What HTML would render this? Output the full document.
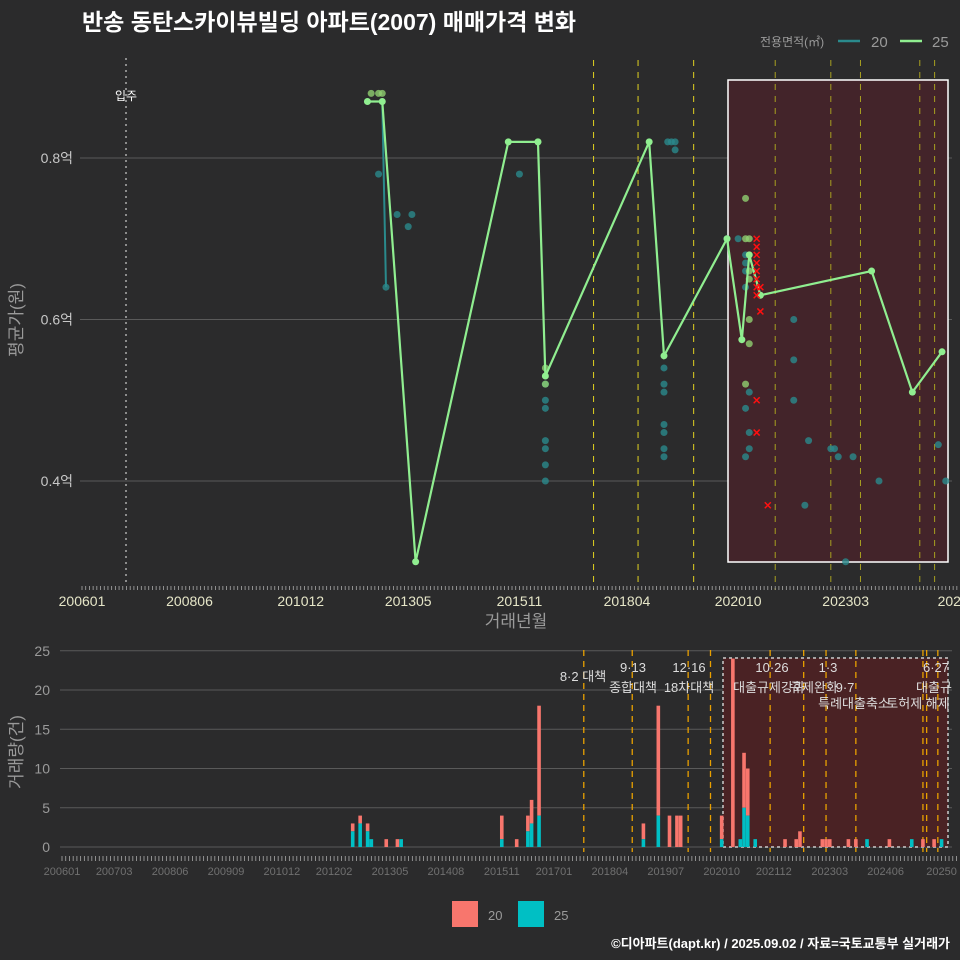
<!DOCTYPE html>
<html><head><meta charset="utf-8">
<style>
html,body{margin:0;padding:0;background:#2b2b2c;}
svg{display:block;font-family:"Liberation Sans","Noto Sans CJK KR",sans-serif;}
</style></head>
<body>
<svg id="chart" width="960" height="960" viewBox="0 0 960 960">
<rect x="0" y="0" width="960" height="960" fill="#2b2b2c"/>
<text x="82" y="30" fill="#ffffff" font-size="23" font-weight="bold">반송 동탄스카이뷰빌딩 아파트(2007) 매매가격 변화</text>
<g>
<text x="760" y="46" fill="#9a9a9a" font-size="12">전용면적(㎡)</text>
<line x1="838" y1="41" x2="860" y2="41" stroke="#2a8a8c" stroke-width="2.5"/>
<text x="871" y="47" fill="#9a9a9a" font-size="15">20</text>
<line x1="900" y1="41" x2="922" y2="41" stroke="#90ee90" stroke-width="2.5"/>
<text x="932" y="47" fill="#9a9a9a" font-size="15">25</text>
</g>
<g id="topPanel"></g>
<g id="botPanel"></g>
<g>
<rect x="452" y="901" width="26" height="26" fill="#f8766d"/>
<text x="488" y="920" fill="#9a9a9a" font-size="13">20</text>
<rect x="518" y="901" width="26" height="26" fill="#00bfc4"/>
<text x="554" y="920" fill="#9a9a9a" font-size="13">25</text>
</g>
<text x="950" y="948" fill="#ffffff" font-size="13" font-weight="bold" text-anchor="end">©디아파트(dapt.kr) / 2025.09.02 / 자료=국토교통부 실거래가</text>
</svg>
<script>
// ---- price data ----
const line25Months = ["201206","201210","201307","201508","201604","201606","201810","201902","202007","202011","202101","202104","202310","202409","202505"];
const line25Values = [0.87,0.87,0.30,0.82,0.82,0.53,0.82,0.555,0.70,0.575,0.68,0.63,0.66,0.51,0.56];
const pts25Months = ["201207","201209","201210","201604","201606","201606","202012","202101","202101","202101","202101","202101","202012","202012"];
const pts25Values = [0.88,0.88,0.88,0.82,0.52,0.54,0.75,0.70,0.66,0.65,0.60,0.57,0.52,0.70];
const line20Months = ["201210","201211"];
const line20Values = [0.87,0.64];
const pts20Months = ["201209","201211","201302","201305","201306","201511","201606","201606","201606","201606","201606","201606","201606","201902","201902","201902","201902","201902","201902","201902","201903","201904","201905","201905","202007","202010","202012","202012","202012","202012","202012","202101","202101","202101","202012","202201","202201","202201","202204","202205","202211","202212","202301","202305","202312","202504","202506","202303"];
const pts20Values = [0.78,0.64,0.73,0.715,0.73,0.78,0.50,0.49,0.45,0.44,0.42,0.40,0.52,0.54,0.52,0.51,0.47,0.46,0.44,0.43,0.82,0.82,0.82,0.81,0.70,0.70,0.68,0.67,0.66,0.64,0.49,0.51,0.46,0.44,0.43,0.60,0.55,0.50,0.37,0.45,0.44,0.44,0.43,0.43,0.40,0.445,0.40,0.30];
const crossMonths = ["202103","202103","202103","202103","202103","202103","202103","202103","202104","202104","202103","202103","202106"];
const crossValues = [0.70,0.69,0.68,0.67,0.66,0.65,0.64,0.63,0.64,0.61,0.50,0.46,0.37];
const priceTicks = [0.4,0.6,0.8];
const priceTickLabels = ["0.4억","0.6억","0.8억"];
const topXLabels = ["200601","200806","201012","201305","201511","201804","202010","202303","202508"];
const topXText = ["200601","200806","201012","201305","201511","201804","202010","202303","2025"];
const policyMonths = ["201707","201807","201910"];
const regionPolicyMonths = ["202108","202211","202307","202411","202503"];
// ---- volume data ----
const volMonths = ["201207","201209","201211","201212","201304","201307","201308","201511","201603","201606","201607","201609","201901","201905","201908","201910","201911","202010","202101","202103","202104","202105","202107","202203","202206","202207","202301","202302","202303","202308","202310","202401","202407","202501","202504","202507","202509"];
const vol25 = [2,3,2,1,0,0,1,1,0,2,3,4,1,4,0,0,0,1,0,1,5,4,1,0,0,0,0,0,0,0,0,1,0,1,0,0,1];
const vol20 = [1,1,1,0,1,1,0,3,1,2,3,14,2,14,4,4,4,3,24,0,7,6,0,1,1,2,1,1,1,1,1,0,1,0,1,1,0];
const volTicks = [0,5,10,15,20,25];
const botXLabels = ["200601","200703","200806","200909","201012","201202","201305","201408","201511","201701","201804","201907","202010","202112","202303","202406","202509"];
const botXText = ["200601","200703","200806","200909","201012","201202","201305","201408","201511","201701","201804","201907","202010","202112","202303","202406","20250"];
const botPolicyMonths = ["201709","201810","202001","202007","202111","202208","202302","202310","202504","202505","202508"];

const NS="http://www.w3.org/2000/svg";
function mi(s){return (parseInt(s.slice(0,4))-2006)*12+parseInt(s.slice(4))-1;}
function el(tag,attrs,parent){const e=document.createElementNS(NS,tag);for(const k in attrs)e.setAttribute(k,attrs[k]);parent.appendChild(e);return e;}
const topG=document.getElementById('topPanel'), botG=document.getElementById('botPanel');
const tx=m=>82+m*3.707, ty=v=>158+(0.8-v)*807.5;
const bx=m=>62+m*3.727, by=v=>847-v*7.85;

priceTicks.forEach((t,i)=>{
 const g=el('line',{x1:80,x2:952,y1:ty(t),y2:ty(t),stroke:'#5a5a5a','stroke-width':1},topG);
 
 
 const l=el('text',{x:73,y:ty(t)+5,fill:'#c8c8c8','font-size':14,'text-anchor':'end'},topG);l.textContent=priceTickLabels[i];
 
 
});
let r=el('rect',{x:728,y:80,width:220,height:482,fill:'#43242a',stroke:'#ffffff','stroke-width':1.5},topG);


policyMonths.forEach(p=>{const l=el('line',{x1:tx(mi(p)),x2:tx(mi(p)),y1:60,y2:590,stroke:'#e0d020','stroke-width':1,'stroke-dasharray':'6,6'},topG);
 
 });
regionPolicyMonths.forEach(p=>{const l=el('line',{x1:tx(mi(p)),x2:tx(mi(p)),y1:60,y2:590,stroke:'#a8a020','stroke-width':1,'stroke-dasharray':'6,6'},topG);
 
 });
let mv=el('line',{x1:126,x2:126,y1:58,y2:585,stroke:'#cccccc','stroke-width':1.2,'stroke-dasharray':'2,4'},topG);


let mt=el('text',{x:126,y:100,fill:'#ffffff','font-size':12,'text-anchor':'middle'},topG);mt.textContent='입주';


pts20Months.forEach((m,i)=>{const c=el('circle',{cx:tx(mi(m)),cy:ty(pts20Values[i]),r:3.5,fill:'#2a8a8c','fill-opacity':0.8},topG);
 
 });
let p20=el('polyline',{points:line20Months.map((m,i)=>tx(mi(m))+','+ty(line20Values[i])).join(' '),fill:'none',stroke:'#2a8a8c','stroke-width':2},topG);


pts25Months.forEach((m,i)=>{const c=el('circle',{cx:tx(mi(m)),cy:ty(pts25Values[i]),r:3.5,fill:'#90d070','fill-opacity':0.8},topG);
 
 });
let p25=el('polyline',{points:line25Months.map((m,i)=>tx(mi(m))+','+ty(line25Values[i])).join(' '),fill:'none',stroke:'#90ee90','stroke-width':2.2},topG);


line25Months.forEach((m,i)=>{const c=el('circle',{cx:tx(mi(m)),cy:ty(line25Values[i]),r:3.5,fill:'#90ee90'},topG);
 
 });
crossMonths.forEach((m,i)=>{const x=tx(mi(m)),y=ty(crossValues[i]);
 const c=el('path',{d:`M${x-3},${y-3}L${x+3},${y+3}M${x-3},${y+3}L${x+3},${y-3}`,stroke:'#ff1010','stroke-width':1.5},topG);
 
 });
for(let m=0;m<=236;m++){const t=el('line',{x1:tx(m),x2:tx(m),y1:586,y2:590,stroke:'#aaaaaa','stroke-width':0.8},topG);
 
 }
topXLabels.forEach((s,i)=>{const t=el('text',{x:tx(mi(s)),y:606,fill:'#e6e6c8','font-size':14,'text-anchor':'middle'},topG);t.textContent=topXText[i];
 
 });
let xt=el('text',{x:516,y:627,fill:'#9a9a9a','font-size':17,'text-anchor':'middle'},topG);xt.textContent='거래년월';


let yt=el('text',{x:0,y:0,fill:'#9a9a9a','font-size':17,'text-anchor':'middle',transform:'translate(22,320) rotate(-90)'},topG);yt.textContent='평균가(원)';



volTicks.forEach(t=>{const g=el('line',{x1:60,x2:952,y1:by(t),y2:by(t),stroke:'#5a5a5a','stroke-width':1},botG);
 
 
 const l=el('text',{x:50,y:by(t)+5,fill:'#9a9a9a','font-size':14,'text-anchor':'end'},botG);l.textContent=t;
 
 });
let br=el('rect',{x:723,y:658,width:225,height:189,fill:'#4a2224',stroke:'#cccccc','stroke-width':1.5,'stroke-dasharray':'3,3'},botG);


botPolicyMonths.forEach(p=>{const l=el('line',{x1:bx(mi(p)),x2:bx(mi(p)),y1:650,y2:852,stroke:'#e8a000','stroke-width':1.3,'stroke-dasharray':'6,5'},botG);
 
 });
volMonths.forEach((m,i)=>{const x=bx(mi(m))-1.8;
 if(vol20[i]>0){const b=el('rect',{x:x,y:by(vol25[i]+vol20[i]),width:3.6,height:vol20[i]*7.85,fill:'#f8766d'},botG);
  
  }
 if(vol25[i]>0){const b=el('rect',{x:x,y:by(vol25[i]),width:3.6,height:vol25[i]*7.85,fill:'#00bfc4'},botG);
  
  }});
const ann=[[583,681,'8·2 대책'],[633,672,'9·13'],[633,692,'종합대책'],[689,672,'12·16'],[689,692,'18차대책'],[772,672,'10·26'],[769,692,'대출규제강화'],[814,692,'규제완화'],[828,672,'1·3'],[845,692,'9·7'],[854,708,'특례대출축소'],[918,708,'토허제 해제'],[936,672,'6·27'],[934,692,'대출규']];
ann.forEach(a=>{const t=el('text',{x:a[0],y:a[1],fill:'#dddddd','font-size':13,'text-anchor':'middle'},botG);t.textContent=a[2];
 
 });
for(let m=0;m<=240;m++){const t=el('line',{x1:bx(m),x2:bx(m),y1:856,y2:861,stroke:'#aaaaaa','stroke-width':0.8},botG);
 
 }
botXLabels.forEach((s,i)=>{const t=el('text',{x:bx(mi(s)),y:875,fill:'#707070','font-size':11,'text-anchor':'middle'},botG);t.textContent=botXText[i];
 
 });
let vt=el('text',{x:0,y:0,fill:'#9a9a9a','font-size':17,'text-anchor':'middle',transform:'translate(22,752) rotate(-90)'},botG);vt.textContent='거래량(건)';


</script>
</body></html>
